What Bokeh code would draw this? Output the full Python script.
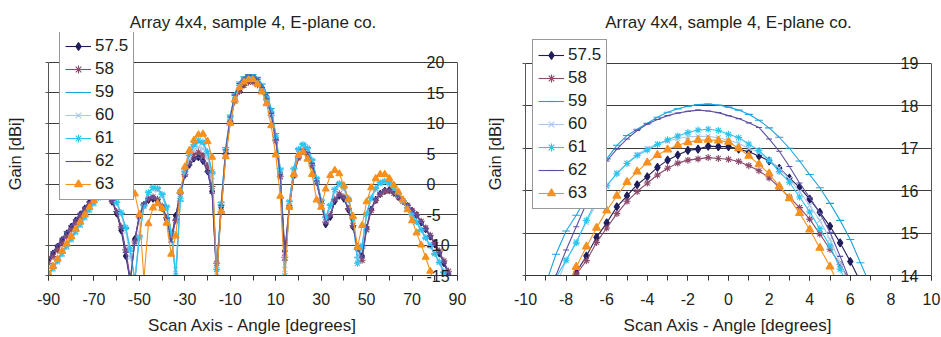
from bokeh.plotting import figure
from bokeh.layouts import row
from bokeh.models import FixedTicker, LinearAxis, CustomJSTickFormatter, Range1d
from bokeh.embed import file_html
from bokeh.resources import INLINE

NAN = float("nan")

TITLE = "Array 4x4, sample 4, E-plane co."
XLABEL = "Scan Axis - Angle [degrees]"
YLABEL = "Gain [dBi]"
SERIES = ["57.5", "58", "59", "60", "61", "62", "63"]
COLORS = ["#1f1d5a", "#8c4a6c", "#1fa3dc", "#a9c8ea", "#2cc5f2", "#5b4fa3", "#f7901e"]
MARKERS = ["diamond", "asterisk", "dash", "x", "asterisk", "dash", "triangle"]

# ---------------- left chart: full scan -90..90 deg ----------------
LX = list(range(-90, 91, 2))
L_575 = [-12.5, -11.4, -10.3, -9.2, -8.1, -7.0, -6.0, -5.0, -4.0, -3.0, -2.1, -1.5, -1.3, -1.7, -2.9, -4.8,
         -7.6, -11.8, -16.0, -9.0, -5.2, -3.4, -2.6, -2.4, -2.8, -3.9, -5.8, -8.8, -5.2, -1.2, 1.5, 3.2,
         4.2, 4.4, 3.8, 2.1, -1.2, -15.5, -3.8, 5.2, 10.5, 13.9, 15.4, 16.4, 16.95, 17.04, 16.7, 15.8,
         14.3, 11.8, 7.6, 1.8, -11.0, -3.5, 1.5, 4.4, 5.5, 5.0, 3.2, 0.4, -3.0, -6.6, -5.4, -2.8,
         -1.9, -2.4, -4.2, -7.0, -10.4, -11.8, -7.2, -4.2, -2.6, -1.6, -1.1, -1.0, -1.4, -2.1, -2.8, -3.6,
         -4.4, -5.1, -6.3, -7.4, -8.6, -9.9, -11.4, -13.0, -14.8, -16.5, -18.0]
L_58 = [-13.0, -11.9, -10.8, -9.7, -8.6, -7.5, -6.4, -5.4, -4.4, -3.4, -2.5, -1.8, -1.5, -1.8, -2.8, -4.5,
        -7.0, -10.8, -15.5, -9.5, -5.4, -3.4, -2.4, -2.1, -2.5, -3.6, -5.5, -8.5, -6.0, -1.4, 1.6, 3.6,
        4.8, 5.25, 4.7, 3.0, -0.4, -13.0, -4.5, 4.8, 10.2, 13.6, 15.2, 16.2, 16.73, 16.74, 16.3, 15.3,
        13.8, 11.3, 7.1, 1.2, -12.0, -3.8, 1.4, 4.3, 5.3, 4.8, 3.0, 0.2, -3.2, -6.2, -5.0, -2.5,
        -1.6, -2.1, -4.0, -6.8, -10.5, -12.5, -7.5, -4.3, -2.7, -1.7, -1.2, -1.1, -1.5, -2.1, -2.8, -3.5,
        -4.3, -5.0, -6.1, -7.2, -8.4, -9.6, -11.0, -12.6, -14.3, -16.0, -17.5]
L_59 = [-14.8, -13.6, -12.4, -11.2, -10.0, -8.8, -7.6, -6.4, -5.2, -4.0, -2.9, -2.0, -1.4, -1.3, -1.8, -3.0,
        -4.8, -7.3, -11.0, -16.0, -8.5, -3.4, -1.3, -0.5, -0.6, -1.6, -3.6, -7.8, -15.5, -2.8, 2.0, 4.7,
        6.2, 6.9, 6.6, 5.0, 1.8, -15.5, -3.0, 6.0, 11.3, 14.8, 16.75, 17.6, 17.99, 17.97, 17.5, 16.4,
        14.9, 12.4, 8.3, 2.6, -15.5, -2.8, 2.6, 5.8, 6.6, 6.0, 4.0, 1.0, -2.6, -5.4, -3.4, -0.8,
        0.2, -0.4, -2.4, -5.6, -12.0, -10.5, -4.8, -2.2, -0.6, 0.3, 0.6, 0.3, -0.5, -1.6, -2.7, -3.9,
        -5.0, -6.3, -7.6, -8.9, -10.2, -11.5, -12.9, -14.5, -16.0, -17.5, -19.0]
L_60 = [-15.2, -14.0, -12.8, -11.6, -10.4, -9.2, -8.0, -6.8, -5.6, -4.4, -3.3, -2.3, -1.7, -1.5, -2.0, -3.2,
        -5.0, -7.8, -12.0, -15.5, -8.0, -3.6, -1.6, -0.9, -1.0, -2.0, -4.0, -8.5, -14.0, -2.5, 1.8, 4.2,
        5.6, 6.1, 5.8, 4.3, 1.2, -14.5, -3.2, 5.6, 10.9, 14.3, 16.1, 16.95, 17.27, 17.19, 16.72, 15.6,
        14.0, 11.6, 7.6, 2.0, -14.0, -3.0, 2.2, 5.2, 6.0, 5.4, 3.5, 0.6, -2.9, -5.8, -3.8, -1.2,
        -0.3, -0.8, -2.8, -6.0, -12.5, -10.0, -5.0, -2.5, -0.9, 0.0, 0.3, 0.0, -0.8, -1.8, -2.9, -4.0,
        -5.1, -6.3, -7.5, -8.8, -10.1, -11.4, -12.8, -14.3, -15.8, -17.3, -18.8]
L_61 = [-15.0, -13.8, -12.6, -11.4, -10.2, -9.0, -7.8, -6.6, -5.4, -4.2, -3.1, -2.2, -1.6, -1.4, -1.9, -3.0,
        -4.7, -7.1, -10.6, -15.8, -8.8, -3.6, -1.4, -0.6, -0.7, -1.7, -3.8, -8.2, -15.0, -2.4, 2.3, 5.0,
        6.5, 7.2, 6.9, 5.3, 2.0, -14.0, -3.4, 5.7, 11.0, 14.5, 16.2, 17.05, 17.4, 17.33, 16.8, 15.5,
        14.1, 11.8, 7.9, 2.3, -15.0, -2.9, 2.5, 5.7, 6.5, 5.9, 3.9, 0.9, -2.7, -5.5, -3.5, -0.9,
        0.1, -0.5, -2.5, -5.7, -13.0, -10.2, -4.9, -2.3, -0.7, 0.2, 0.5, 0.2, -0.6, -1.7, -2.8, -3.9,
        -5.0, -6.2, -7.5, -8.8, -10.1, -11.4, -12.8, -14.4, -15.9, -17.4, -19.0]
L_62 = [-12.2, -11.1, -10.0, -8.9, -7.8, -6.8, -5.8, -4.8, -3.8, -2.9, -2.0, -1.4, -1.2, -1.6, -2.7, -4.5,
        -7.2, -11.2, -16.0, -9.2, -5.0, -3.2, -2.3, -2.1, -2.5, -3.6, -5.6, -9.5, -5.8, -1.5, 1.3, 3.1,
        4.1, 4.4, 3.8, 2.0, -1.5, -15.0, -3.5, 5.6, 11.0, 14.6, 16.5, 17.4, 17.87, 17.78, 17.22, 15.84,
        14.0, 11.6, 7.3, 1.5, -12.5, -3.6, 1.6, 4.6, 5.7, 5.2, 3.4, 0.5, -2.9, -6.4, -5.2, -2.6,
        -1.8, -2.3, -4.1, -6.9, -10.6, -12.0, -7.0, -4.0, -2.4, -1.4, -0.9, -0.9, -1.3, -2.0, -2.7, -3.5,
        -4.3, -5.1, -6.2, -7.3, -8.5, -9.8, -11.2, -12.8, -14.6, -16.3, -18.0]
L_63 = [-14.7, -13.5, -12.3, -11.0, -9.8, -8.6, -7.4, -6.2, -5.0, -3.8, -2.7, -1.8, -1.1, -0.6, -0.3, -0.2,
        -0.3, -0.5, -0.7, -1.6, -5.0, -15.5, -6.5, -3.9, -3.2, -4.0, -6.4, -11.5, -8.5, -1.2, 2.8, 5.5,
        7.2, 8.1, 8.2, 7.0, 4.4, -15.5, -4.5, 4.5, 10.0, 13.8, 15.8, 16.75, 17.14, 17.15, 16.4, 15.1,
        13.2, 9.6, 4.8, -2.0, -15.5, -3.8, 1.6, 4.7, 5.3, 4.1, 1.6, -2.6, -3.8, -0.8, 1.4, 2.25,
        1.7, -0.3, -2.5, -5.3, -10.4, -6.8, -2.9, -0.6, 0.9, 1.6, 1.6, 0.9, -0.2, -1.3, -2.6, -4.2,
        -6.0, -8.0, -10.0, -12.0, -14.3, -16.5, NAN, NAN, NAN, NAN, NAN]
LEFT_VALUES = [L_575, L_58, L_59, L_60, L_61, L_62, L_63]
LEFT_XTICKS = [-90, -70, -50, -30, -10, 10, 30, 50, 70, 90]
LEFT_XMINOR = [-90, -80, -70, -60, -50, -40, -30, -20, -10, 0, 10, 20, 30, 40, 50, 60, 70, 80, 90]
LEFT_YTICKS = [-15, -10, -5, 0, 5, 10, 15, 20]

# ---------------- right chart: zoom on main lobe -10..10 deg ----------------
RX = [-9.0, -8.5, -8.0, -7.5, -7.0, -6.5, -6.0, -5.5, -5.0, -4.5, -4.0, -3.5, -3.0, -2.5, -2.0, -1.5, -1.0,
      -0.5, 0.0, 0.5, 1.0, 1.5, 2.0, 2.5, 3.0, 3.5, 4.0, 4.5, 5.0, 5.5, 6.0, 6.5, 7.0]
R_575 = [NAN, NAN, 13.65, 14.07, 14.46, 14.9, 15.24, 15.62, 15.88, 16.14, 16.33, 16.55, 16.72, 16.84, 16.95,
         16.98, 17.05, 17.04, 17.04, 16.98, 16.92, 16.82, 16.7, 16.53, 16.3, 16.08, 15.8, 15.49, 15.16, 14.77,
         14.33, 13.85, NAN]
R_58 = [NAN, NAN, 13.6, 14.03, 14.35, 14.78, 15.12, 15.46, 15.75, 15.98, 16.18, 16.37, 16.53, 16.65, 16.72,
        16.75, 16.78, 16.76, 16.74, 16.69, 16.59, 16.47, 16.3, 16.08, 15.85, 15.6, 15.33, 14.98, 14.62, 14.26,
        13.85, NAN, NAN]
R_59 = [13.8, 14.5, 15.05, 15.42, 15.85, 16.43, 16.75, 17.07, 17.3, 17.45, 17.59, 17.73, 17.85, 17.93, 17.99,
        18.03, 18.04, 18.02, 17.97, 17.9, 17.8, 17.66, 17.48, 17.26, 17.0, 16.7, 16.38, 16.07, 15.7, 15.3,
        14.85, 14.3, 13.75]
R_60 = [NAN, 13.75, 14.35, 14.8, 15.25, 15.7, 16.1, 16.42, 16.65, 16.85, 17.0, 17.1, 17.17, 17.23, 17.27,
        17.28, 17.28, 17.25, 17.19, 17.12, 17.0, 16.9, 16.72, 16.53, 16.27, 15.98, 15.65, 15.3, 14.85, 14.3,
        13.7, NAN, NAN]
R_61 = [NAN, 13.95, 14.36, 14.77, 15.3, 15.77, 16.12, 16.4, 16.64, 16.83, 16.96, 17.09, 17.2, 17.29, 17.37,
        17.43, 17.45, 17.42, 17.33, 17.25, 17.1, 16.95, 16.72, 16.45, 16.2, 15.85, 15.5, 15.1, 14.7, 14.15,
        13.6, NAN, NAN]
R_62 = [13.6, 14.0, 14.6, 15.15, 15.7, 16.25, 16.7, 16.98, 17.22, 17.42, 17.57, 17.68, 17.77, 17.83, 17.87,
        17.9, 17.88, 17.84, 17.77, 17.7, 17.6, 17.49, 17.22, 16.93, 16.57, 16.18, 15.84, 15.47, 15.02, 14.45,
        13.85, NAN, NAN]
R_63 = [NAN, NAN, 13.7, 14.2, 14.68, 15.12, 15.53, 15.88, 16.2, 16.45, 16.66, 16.84, 16.97, 17.07, 17.14,
        17.19, 17.2, 17.18, 17.15, 17.0, 16.82, 16.62, 16.4, 16.1, 15.82, 15.47, 15.08, 14.65, 14.21, 13.7,
        NAN, NAN, NAN]
RIGHT_VALUES = [R_575, R_58, R_59, R_60, R_61, R_62, R_63]
RIGHT_XTICKS = [-10, -8, -6, -4, -2, 0, 2, 4, 6, 8, 10]
RIGHT_XMINOR = [-10, -9, -8, -7, -6, -5, -4, -3, -2, -1, 0, 1, 2, 3, 4, 5, 6, 7, 8, 9, 10]
RIGHT_YTICKS = [14, 15, 16, 17, 18, 19]

FONT = "Liberation Sans"
TXT = "#231f20"
GRID = "#3c3c3c"
PLAIN = "return tick.toString()"


def make_fig(xs, values, xr, yr, ytop, xticks, xminor, yticks, width, left, right,
             sizes, ystandoff, ylabel_standoff, legend_loc):
    p = figure(width=width, height=337, output_backend="svg", toolbar_location=None,
               x_range=Range1d(*xr), y_range=Range1d(yr[0], ytop), y_axis_location="right",
               min_border_left=left, min_border_right=right, min_border_top=32,
               min_border_bottom=62, title=TITLE)
    p.title.text_font = FONT
    p.title.text_font_size = "17px"
    p.title.text_font_style = "normal"
    p.title.text_color = TXT
    p.title.align = "center"
    p.title.standoff = 2
    p.background_fill_color = "white"
    p.border_fill_color = "white"
    p.outline_line_color = None

    for name, col, mk, ys, sz in zip(SERIES, COLORS, MARKERS, values, sizes):
        p.line(xs, ys, line_color=col, line_width=1.1, legend_label=name)
        p.scatter(xs, ys, marker=mk, size=sz, line_color=col, fill_color=col,
                  line_width=1.1, legend_label=name)

    # x axis
    xa = p.xaxis[0]
    xa.ticker = FixedTicker(ticks=xticks, minor_ticks=xminor)
    xa.formatter = CustomJSTickFormatter(code=PLAIN)
    xa.axis_label = XLABEL
    xa.axis_label_text_font = FONT
    xa.axis_label_text_font_size = "17px"
    xa.axis_label_text_font_style = "normal"
    xa.axis_label_text_color = TXT
    xa.axis_label_standoff = 8
    xa.major_label_text_font = FONT
    xa.major_label_text_font_size = "16px"
    xa.major_label_text_color = TXT
    xa.major_label_standoff = 12
    xa.axis_line_color = "#333333"
    xa.major_tick_line_color = "#333333"
    xa.minor_tick_line_color = "#333333"
    xa.major_tick_out = 5
    xa.major_tick_in = 0
    xa.minor_tick_out = 5
    xa.minor_tick_in = 0

    # right y axis, labels drawn inside the plot area
    ya = p.yaxis[0]
    ya.ticker = FixedTicker(ticks=yticks)
    ya.formatter = CustomJSTickFormatter(code=PLAIN)
    ya.bounds = (yr[0], yr[1])
    ya.axis_line_color = "#555555"
    ya.major_tick_line_color = None
    ya.minor_tick_line_color = None
    ya.major_label_text_font = FONT
    ya.major_label_text_font_size = "16px"
    ya.major_label_text_color = TXT
    ya.major_label_standoff = ystandoff

    # left axis carrying the axis title
    la = LinearAxis(ticker=FixedTicker(ticks=yticks),
                    formatter=CustomJSTickFormatter(code="return ''"))
    la.bounds = (yr[0], yr[1])
    la.axis_label = YLABEL
    la.axis_label_text_font = FONT
    la.axis_label_text_font_size = "16.5px"
    la.axis_label_text_font_style = "normal"
    la.axis_label_text_color = TXT
    la.axis_label_standoff = ylabel_standoff
    la.axis_line_color = "#555555"
    la.major_tick_line_color = "#555555"
    la.major_tick_out = 3
    la.major_tick_in = 0
    la.minor_tick_line_color = None
    p.add_layout(la, "left")

    p.xgrid.visible = False
    p.ygrid.ticker = FixedTicker(ticks=yticks)
    p.ygrid.grid_line_color = GRID
    p.ygrid.grid_line_width = 1.2

    lg = p.legend[0]
    lg.location = legend_loc
    lg.border_line_color = "#333333"
    lg.border_line_width = 1
    lg.background_fill_color = "white"
    lg.background_fill_alpha = 1.0
    lg.label_text_font = FONT
    lg.label_text_font_size = "17px"
    lg.label_text_color = TXT
    lg.glyph_width = 26
    lg.glyph_height = 20
    lg.label_height = 20
    lg.label_standoff = 4
    lg.spacing = 3
    lg.padding = 5
    lg.margin = 0
    return p


p1 = make_fig(LX, LEFT_VALUES, (-90, 90), (-15, 20), 24.87, LEFT_XTICKS, LEFT_XMINOR, LEFT_YTICKS,
              470, 48, 13, [7, 7, 7, 7, 7, 6, 7], -37, 22, (11, 75))
p2 = make_fig(RX, RIGHT_VALUES, (-10, 10), (14, 19), 19.73, RIGHT_XTICKS, RIGHT_XMINOR, RIGHT_YTICKS,
              471, 55, 10, [8, 7, 8, 7, 7, 6, 8], -37, 19, (7, 66))

layout = row(p1, p2)
open("out.html", "w").write(file_html(layout, INLINE))
